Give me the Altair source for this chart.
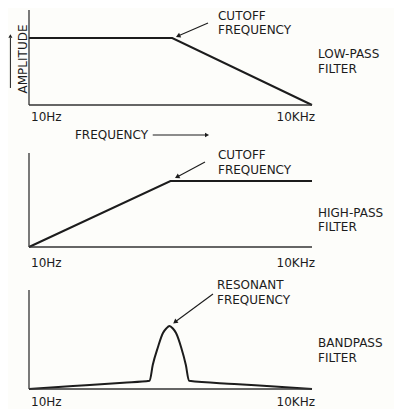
import altair as alt
import pandas as pd

# ---------------- data ----------------
LP_FREQ = [10, 330, 10000]
LP_AMP = [1.0, 1.0, 0.0]

HP_FREQ = [10, 316, 10000]
HP_AMP = [0.0, 1.0, 1.0]

BP_FREQ = [10, 40, 100, 190, 205, 233, 263, 285, 309, 335, 362, 409, 460, 497, 1500, 4000, 10000]
BP_AMP = [0.0, 0.06, 0.10, 0.13, 0.38, 0.667, 0.889, 0.96, 1.0, 0.96, 0.889, 0.667, 0.38, 0.13, 0.081, 0.04, 0.0]

FREQ_LABELS = ["10Hz", "10KHz"]
FILTER_NAMES = [["LOW-PASS", "FILTER"], ["HIGH-PASS", "FILTER"], ["BANDPASS", "FILTER"]]
CALLOUTS = [["CUTOFF", "FREQUENCY"], ["CUTOFF", "FREQUENCY"], ["RESONANT", "FREQUENCY"]]
Y_TITLE = "AMPLITUDE"
X_TITLE = "FREQUENCY"

# annotation anchors in data units (frequency in Hz, relative amplitude)
CALLOUT_FREQ = [1008, 1008, 984]
CALLOUT_AMP = [[1.328, 1.119], [1.394, 1.167], [1.651, 1.413]]
ARROW_TAIL = [(790, 1.224), (734, 1.288), (892, 1.508)]
ARROW_HEAD = [(380, 1.03), (371, 1.061), (353, 1.063)]
ARROW_ANGLE = [246.6, 241.8, 233.6]
NAME_FREQ = 11577
NAME_AMP = [[0.761, 0.537], [0.515, 0.303], [0.730, 0.492]]
LABEL_AMP = [-0.179, -0.242, -0.2]
LABEL_FREQ = [10.5, 10760]
AXIS_TOP = [1.418, 1.424, 1.571]

# ---------------- styling ----------------
W, H = 386, 133
Y_RANGES = [[97, 30], [105, 39], [113, 50]]
INK = "#1c1c1c"
FONT = "DejaVu Sans"
FS = 12


def xscale():
    return alt.Scale(type="log", domain=[10, 10000], range=[21, 304], nice=False)


def yscale(i):
    return alt.Scale(domain=[0, 1], range=Y_RANGES[i], nice=False, zero=False)


def enc_xy(i, xf="f", yf="a"):
    return dict(
        x=alt.X(f"{xf}:Q", scale=xscale(), axis=None),
        y=alt.Y(f"{yf}:Q", scale=yscale(i), axis=None),
    )


def panel(i, freq, amp, interp):
    layers = []
    curve = pd.DataFrame({"f": freq, "a": amp})
    layers.append(
        alt.Chart(curve)
        .mark_line(color=INK, strokeWidth=2, interpolate=interp)
        .encode(**enc_xy(i))
    )
    # axis lines
    axes = pd.DataFrame(
        {"f": [10, 10], "a": [0, 0], "f2": [10000, 10], "a2": [0, AXIS_TOP[i]]}
    )
    layers.append(
        alt.Chart(axes)
        .mark_rule(color="#333333", strokeWidth=1.3)
        .encode(**enc_xy(i), x2="f2:Q", y2="a2:Q")
    )
    # callout arrow
    tail, head = ARROW_TAIL[i], ARROW_HEAD[i]
    arr = pd.DataFrame(
        {"f": [tail[0]], "a": [tail[1]], "f2": [head[0]], "a2": [head[1]]}
    )
    layers.append(
        alt.Chart(arr)
        .mark_rule(color=INK, strokeWidth=1.1)
        .encode(**enc_xy(i), x2="f2:Q", y2="a2:Q")
    )
    tip = pd.DataFrame({"f": [head[0]], "a": [head[1]]})
    layers.append(
        alt.Chart(tip)
        .mark_point(shape="triangle-up", filled=True, color=INK, size=28,
                    angle=ARROW_ANGLE[i], opacity=1)
        .encode(**enc_xy(i))
    )
    # left-aligned texts
    texts = pd.DataFrame(
        {
            "t": CALLOUTS[i] + FILTER_NAMES[i] + [FREQ_LABELS[0]],
            "f": [CALLOUT_FREQ[i]] * 2 + [NAME_FREQ] * 2 + [LABEL_FREQ[0]],
            "a": CALLOUT_AMP[i] + NAME_AMP[i] + [LABEL_AMP[i]],
        }
    )
    layers.append(
        alt.Chart(texts)
        .mark_text(align="left", baseline="middle", font=FONT, fontSize=FS, color=INK)
        .encode(**enc_xy(i), text="t:N")
    )
    rt = pd.DataFrame({"t": [FREQ_LABELS[1]], "f": [LABEL_FREQ[1]], "a": [LABEL_AMP[i]]})
    layers.append(
        alt.Chart(rt)
        .mark_text(align="right", baseline="middle", font=FONT, fontSize=FS, color=INK)
        .encode(**enc_xy(i), text="t:N")
    )
    if i == 0:
        # y title with up arrow
        yt = pd.DataFrame({"t": [Y_TITLE], "f": [8.64], "a": [0.687]})
        layers.append(
            alt.Chart(yt)
            .mark_text(align="center", baseline="middle", angle=270, font=FONT,
                       fontSize=FS, color=INK)
            .encode(**enc_xy(i), text="t:N")
        )
        ua = pd.DataFrame({"f": [6.35], "a": [0.254], "f2": [6.35], "a2": [1.0]})
        layers.append(
            alt.Chart(ua)
            .mark_rule(color=INK, strokeWidth=1.0)
            .encode(**enc_xy(i), x2="f2:Q", y2="a2:Q")
        )
        layers.append(
            alt.Chart(pd.DataFrame({"f": [6.35], "a": [1.03]}))
            .mark_point(shape="triangle-up", filled=True, color=INK, size=16, opacity=1)
            .encode(**enc_xy(i))
        )
        # x title with right arrow
        xt = pd.DataFrame({"t": [X_TITLE], "f": [30.7], "a": [-0.448]})
        layers.append(
            alt.Chart(xt)
            .mark_text(align="left", baseline="middle", font=FONT, fontSize=FS, color=INK)
            .encode(**enc_xy(i), text="t:N")
        )
        ra = pd.DataFrame({"f": [205], "a": [-0.448], "f2": [760], "a2": [-0.448]})
        layers.append(
            alt.Chart(ra)
            .mark_rule(color=INK, strokeWidth=1.1)
            .encode(**enc_xy(i), x2="f2:Q", y2="a2:Q")
        )
        layers.append(
            alt.Chart(pd.DataFrame({"f": [771], "a": [-0.448]}))
            .mark_point(shape="triangle-up", filled=True, color=INK, size=22,
                        angle=90, opacity=1)
            .encode(**enc_xy(i))
        )
    return alt.layer(*layers).properties(width=W, height=H)


p1 = panel(0, LP_FREQ, LP_AMP, "linear")
p2 = panel(1, HP_FREQ, HP_AMP, "linear")
p3 = panel(2, BP_FREQ, BP_AMP, "monotone")

chart = (
    alt.vconcat(p1, p2, p3, spacing=1, bounds="flush")
    .properties(padding=0, background="#fdfdfa")
    .configure_view(strokeOpacity=0)
)

chart.save("out.html", embed_options={"renderer": "svg", "actions": False})
